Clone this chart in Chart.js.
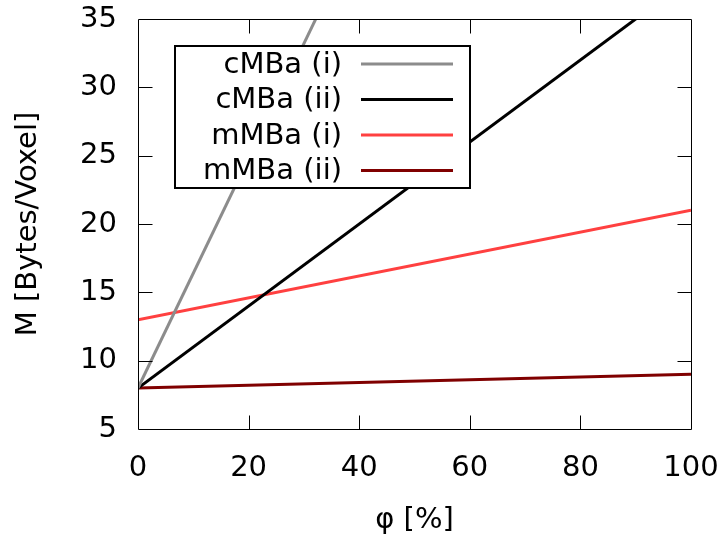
<!DOCTYPE html>
<html>
<head>
<meta charset="utf-8">
<script src="https://cdn.jsdelivr.net/npm/chart.js@4/dist/chart.umd.min.js"></script>
<style>
  html, body { margin: 0; padding: 0; background: #ffffff; }
  canvas { display: block; }
</style>
</head>
<body>
<canvas id="c" width="724" height="538"></canvas>
<script>
// Memory per voxel as a function of the fill fraction phi
const phi     = [0, 100];
const cMBaI   = [8, 92];
const cMBaII  = [8, 38];
const mMBaI   = [13, 21];
const mMBaII  = [8, 9];

const seriesLabels = ['cMBa (i)', 'cMBa (ii)', 'mMBa (i)', 'mMBa (ii)'];
const seriesColors = ['#8c8c8c', '#000000', '#ff4040', '#800000'];
const seriesValues = [cMBaI, cMBaII, mMBaI, mMBaII];

const xTicks = [0, 20, 40, 60, 80, 100];
const yTicks = [5, 10, 15, 20, 25, 30, 35];

const FONT = 'DejaVu Sans';
const FONT_SIZE = 29;

function toPoints(values) {
  return phi.map((x, i) => ({ x: x, y: values[i] }));
}

// Frame with inward ticks on all four sides
const framePlugin = {
  id: 'frame',
  afterDraw(chart) {
    const { ctx, chartArea: a, scales } = chart;
    const L = Math.round(a.left) + 0.5, R = Math.round(a.right) + 0.5;
    const T = Math.round(a.top) + 0.5, B = Math.round(a.bottom) + 0.5;
    const len = 14;
    ctx.save();
    ctx.strokeStyle = '#000000';
    ctx.lineWidth = 1;
    ctx.beginPath();
    ctx.rect(L, T, R - L, B - T);
    xTicks.slice(1, -1).forEach(v => {
      const px = Math.round(scales.x.getPixelForValue(v)) + 0.5;
      ctx.moveTo(px, B); ctx.lineTo(px, B - len);
      ctx.moveTo(px, T); ctx.lineTo(px, T + len);
    });
    yTicks.slice(1, -1).forEach(v => {
      const py = Math.round(scales.y.getPixelForValue(v)) + 0.5;
      ctx.moveTo(L, py); ctx.lineTo(L + len, py);
      ctx.moveTo(R, py); ctx.lineTo(R - len, py);
    });
    ctx.stroke();
    ctx.restore();
  }
};

// Boxed key: right-aligned names followed by line samples
const keyPlugin = {
  id: 'key',
  afterDraw(chart) {
    const { ctx } = chart;
    const box = { left: 175, top: 46, right: 470, bottom: 188 };
    const rowY = [64, 99.5, 135, 170.5];
    ctx.save();
    ctx.fillStyle = '#ffffff';
    ctx.fillRect(box.left, box.top, box.right - box.left, box.bottom - box.top);
    ctx.strokeStyle = '#000000';
    ctx.lineWidth = 2;
    ctx.strokeRect(box.left, box.top, box.right - box.left, box.bottom - box.top);
    ctx.font = FONT_SIZE + 'px "' + FONT + '"';
    ctx.textAlign = 'right';
    ctx.textBaseline = 'middle';
    chart.data.datasets.forEach((ds, i) => {
      const y = rowY[i];
      ctx.fillStyle = '#000000';
      ctx.fillText(ds.label, 342, y + 1);
      ctx.strokeStyle = ds.borderColor;
      ctx.lineWidth = 3;
      ctx.beginPath();
      ctx.moveTo(361, y);
      ctx.lineTo(453, y);
      ctx.stroke();
    });
    ctx.restore();
  }
};

new Chart(document.getElementById('c'), {
  type: 'scatter',
  data: {
    datasets: seriesLabels.map((label, i) => ({
      label: label,
      data: toPoints(seriesValues[i]),
      showLine: true,
      borderColor: seriesColors[i],
      backgroundColor: seriesColors[i],
      borderWidth: 3,
      pointRadius: 0,
      fill: false
    }))
  },
  options: {
    responsive: false,
    animation: false,
    layout: { padding: 0 },
    plugins: {
      legend: { display: false },
      tooltip: { enabled: false }
    },
    scales: {
      x: {
        type: 'linear',
        min: 0, max: 100,
        afterBuildTicks(scale) { scale.ticks = xTicks.map(v => ({ value: v })); },
        afterFit(scale) {
          scale.height = 109;
          scale.paddingLeft = 0;
          scale.paddingRight = 33;
        },
        grid: { display: false, drawTicks: false },
        border: { display: false },
        ticks: {
          autoSkip: false, maxRotation: 0, padding: 22,
          color: '#000000', font: { family: FONT, size: FONT_SIZE }
        },
        title: {
          display: true, text: 'φ [%]', color: '#000000',
          font: { family: FONT, size: FONT_SIZE }, padding: { top: 0, bottom: 0 }
        }
      },
      y: {
        type: 'linear',
        min: 5, max: 35,
        afterBuildTicks(scale) { scale.ticks = yTicks.map(v => ({ value: v })); },
        afterFit(scale) {
          scale.width = 138;
          scale.paddingTop = 19;
          scale.paddingBottom = 0;
        },
        grid: { display: false, drawTicks: false },
        border: { display: false },
        ticks: {
          autoSkip: false, padding: 21,
          color: '#000000', font: { family: FONT, size: FONT_SIZE }
        },
        title: {
          display: true, text: 'M [Bytes/Voxel]', color: '#000000',
          font: { family: FONT, size: FONT_SIZE }, padding: { top: 11, bottom: 11 }
        }
      }
    }
  },
  plugins: [framePlugin, keyPlugin]
});
</script>
</body>
</html>
